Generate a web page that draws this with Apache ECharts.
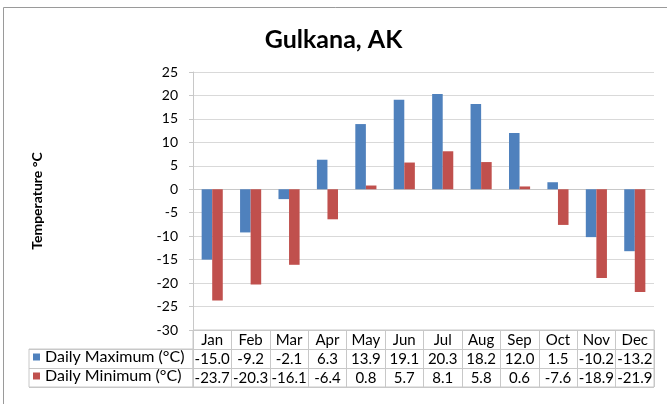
<!DOCTYPE html>
<html>
<head>
    <meta charset="utf-8">
    <script src="https://cdn.jsdelivr.net/npm/echarts@6/dist/echarts.min.js"></script>
    <style>
        body { margin: 0; background: #fff; }
        #chart { width: 667px; height: 404px; }
    </style>
</head>
<body>
    <div id="chart"></div>
    <script type="text/javascript">
        // 数据
        var months = ['Jan', 'Feb', 'Mar', 'Apr', 'May', 'Jun', 'Jul', 'Aug', 'Sep', 'Oct', 'Nov', 'Dec'];
        var dailyMax = [-15.0, -9.2, -2.1, 6.3, 13.9, 19.1, 20.3, 18.2, 12.0, 1.5, -10.2, -13.2];
        var dailyMin = [-23.7, -20.3, -16.1, -6.4, 0.8, 5.7, 8.1, 5.8, 0.6, -7.6, -18.9, -21.9];
        var maxName = 'Daily Maximum (°C)';
        var minName = 'Daily Minimum (°C)';

        var font = 'Lato';
        var lineColor = '#c8c8c8';
        var tableFont = 15;

        function valueAxis(gridIndex, offset, values) {
            return {
                type: 'category',
                gridIndex: gridIndex,
                position: 'bottom',
                offset: offset,
                data: months,
                axisLine: { show: false },
                axisTick: { show: false },
                axisLabel: {
                    interval: 0,
                    margin: 3,
                    color: '#000',
                    fontFamily: font,
                    fontSize: tableFont,
                    formatter: function (v, i) { return values[i].toFixed(1); }
                }
            };
        }

        function legendRow(name, top) {
            return {
                data: [name], left: 33, top: top, padding: 0,
                icon: 'rect', itemWidth: 7, itemHeight: 7, itemGap: 4,
                textStyle: { fontFamily: font, fontSize: 16, color: '#000', padding: [0, 0, 0, 0] }
            };
        }

        var option = {
            animation: false,
            backgroundColor: '#fff',
            textStyle: { fontFamily: font },
            title: {
                text: 'Gulkana, AK',
                left: 'center',
                top: 22,
                textStyle: { fontFamily: font, fontSize: 25, fontWeight: 'bold', color: '#000' }
            },
            legend: [
                legendRow(maxName, 349),
                legendRow(minName, 368)
            ],
            graphic: [
                {
                    type: 'rect',
                    shape: { x: 3.5, y: 7.5, width: 700, height: 500 },
                    style: { fill: 'none', stroke: '#9a9a9a', lineWidth: 1 }
                }
            ],
            grid: [
                { left: 193, top: 72, width: 461, height: 258 },
                { left: 193, top: 330, width: 461, height: 57, show: true, borderColor: lineColor, borderWidth: 1 },
                { left: 29, top: 349, width: 164, height: 38, show: true, borderColor: lineColor, borderWidth: 1 }
            ],
            xAxis: [
                {
                    type: 'category',
                    gridIndex: 0,
                    data: months,
                    axisLine: { show: true, lineStyle: { color: lineColor } },
                    axisTick: { show: false },
                    axisLabel: { interval: 0, margin: 3, color: '#000', fontFamily: font, fontSize: tableFont }
                },
                valueAxis(0, 19, dailyMax),
                valueAxis(0, 38, dailyMin),
                {
                    type: 'category',
                    gridIndex: 1,
                    data: months,
                    axisLine: { show: false },
                    axisTick: { show: false },
                    axisLabel: { show: false },
                    splitLine: { show: true, interval: 0, lineStyle: { color: lineColor } }
                },
                {
                    type: 'category',
                    gridIndex: 2,
                    data: [''],
                    show: false
                }
            ],
            yAxis: [
                {
                    type: 'value',
                    gridIndex: 0,
                    name: 'Temperature °C',
                    nameLocation: 'middle',
                    nameGap: 149,
                    nameRotate: 90,
                    nameTextStyle: { fontFamily: font, fontSize: 14, fontWeight: 'bold', color: '#000' },
                    min: -30,
                    max: 25,
                    interval: 5,
                    axisLine: { show: true, lineStyle: { color: lineColor } },
                    axisTick: { show: true, length: 4, lineStyle: { color: lineColor } },
                    axisLabel: { margin: 15, color: '#000', fontFamily: font, fontSize: 14 },
                    splitLine: { show: true, lineStyle: { color: '#d9d9d9' } }
                },
                {
                    type: 'value',
                    gridIndex: 1,
                    min: 0, max: 3, interval: 1,
                    axisLine: { show: false },
                    axisTick: { show: false },
                    axisLabel: { show: false },
                    splitLine: { show: true, lineStyle: { color: lineColor } }
                },
                {
                    type: 'value',
                    gridIndex: 2,
                    min: 0, max: 2, interval: 1,
                    axisLine: { show: false },
                    axisTick: { show: false },
                    axisLabel: { show: false },
                    splitLine: { show: true, lineStyle: { color: lineColor } }
                }
            ],
            series: [
                {
                    name: maxName,
                    type: 'bar',
                    xAxisIndex: 0,
                    yAxisIndex: 0,
                    data: dailyMax,
                    barGap: '0%',
                    barCategoryGap: '45%',
                    itemStyle: { color: '#4f81bd' }
                },
                {
                    name: minName,
                    type: 'bar',
                    xAxisIndex: 0,
                    yAxisIndex: 0,
                    data: dailyMin,
                    barGap: '0%',
                    barCategoryGap: '45%',
                    itemStyle: { color: '#c0504d' }
                }
            ]
        };

        var myChart = echarts.init(document.getElementById('chart'));
        myChart.setOption(option);
    </script>
</body>
</html>
